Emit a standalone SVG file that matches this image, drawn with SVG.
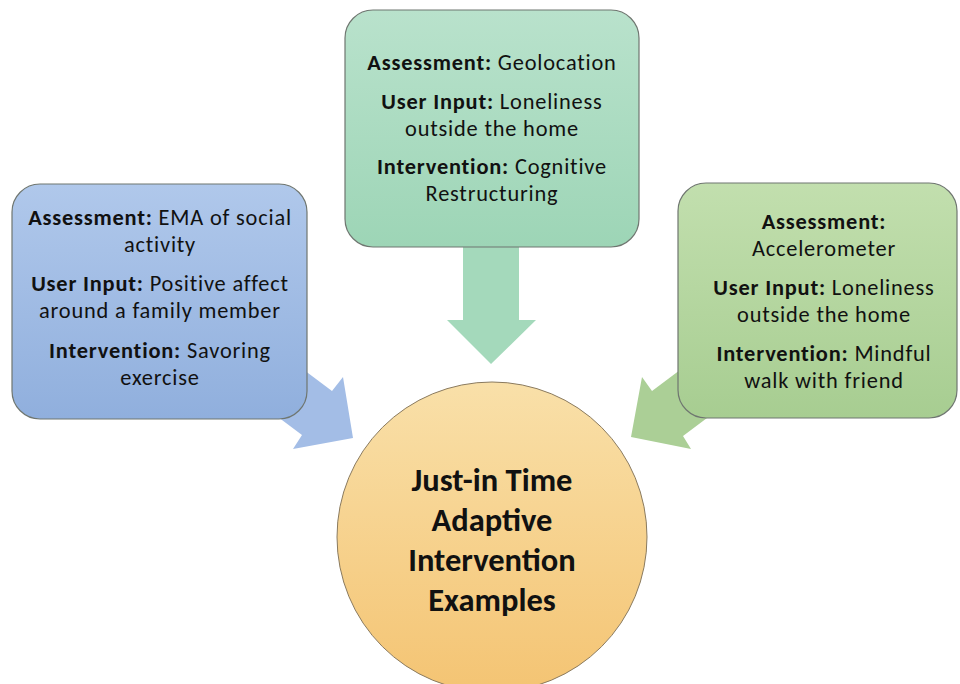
<svg xmlns="http://www.w3.org/2000/svg" width="960" height="684" viewBox="0 0 960 684">
  <defs>
    <linearGradient id="gBlue" x1="0" y1="0" x2="0" y2="1">
      <stop offset="0" stop-color="#b0c8eb"/>
      <stop offset="1" stop-color="#90afdd"/>
    </linearGradient>
    <linearGradient id="gTeal" x1="0" y1="0" x2="0" y2="1">
      <stop offset="0" stop-color="#b9e2cc"/>
      <stop offset="1" stop-color="#9dd5b6"/>
    </linearGradient>
    <linearGradient id="gGreen" x1="0" y1="0" x2="0" y2="1">
      <stop offset="0" stop-color="#c2dfae"/>
      <stop offset="1" stop-color="#a7cd91"/>
    </linearGradient>
    <linearGradient id="gGold" x1="0" y1="0" x2="0" y2="1">
      <stop offset="0" stop-color="#f9e0a9"/>
      <stop offset="1" stop-color="#f4c473"/>
    </linearGradient>
  </defs>
  <style>
    .box { stroke: #6f7670; stroke-width: 1.2; }
    .t { font-family: Carlito, Lato, "Open Sans", sans-serif; font-size: 22.4px; letter-spacing: 0.8px; fill: #111; text-anchor: middle; }
    .b { font-weight: bold; }
    .hub { font-family: Carlito, Lato, "Open Sans", sans-serif; font-size: 32.5px; font-weight: bold; fill: #111; text-anchor: middle; }
  </style>

  <!-- block arrows pointing at the hub -->
  <g id="connectors">
    <polygon fill="#a3bde6" points="284,355 332,391 343,377 353,438 293,449 302,435 254,399"/>
    <polygon fill="#a4d9bb" points="463,230 519,230 519,320 536,320 491,364 447,320 463,320"/>
    <polygon fill="#abcf96" points="700,355 652,391 642,377 631,437 691,449 683,436 731,400"/>
  </g>

  <g id="assessment-ema">
    <rect class="box" x="12" y="184" width="295" height="235" rx="28" fill="url(#gBlue)"/>
    <text class="t" x="160" y="225"><tspan class="b">Assessment:</tspan> EMA of social</text>
    <text class="t" x="160" y="252">activity</text>
    <text class="t" x="160" y="291"><tspan class="b">User Input:</tspan> Positive affect</text>
    <text class="t" x="160" y="318">around a family member</text>
    <text class="t" x="160" y="358"><tspan class="b">Intervention:</tspan> Savoring</text>
    <text class="t" x="160" y="385">exercise</text>
  </g>

  <g id="assessment-geolocation">
    <rect class="box" x="345" y="10" width="294" height="237" rx="28" fill="url(#gTeal)"/>
    <text class="t" x="492" y="70"><tspan class="b">Assessment:</tspan> Geolocation</text>
    <text class="t" x="492" y="109"><tspan class="b">User Input:</tspan> Loneliness</text>
    <text class="t" x="492" y="136">outside the home</text>
    <text class="t" x="492" y="174"><tspan class="b">Intervention:</tspan> Cognitive</text>
    <text class="t" x="492" y="201">Restructuring</text>
  </g>

  <g id="assessment-accelerometer">
    <rect class="box" x="678" y="183" width="279" height="235" rx="28" fill="url(#gGreen)"/>
    <text class="t b" x="824" y="229">Assessment:</text>
    <text class="t" x="824" y="256">Accelerometer</text>
    <text class="t" x="824" y="295"><tspan class="b">User Input:</tspan> Loneliness</text>
    <text class="t" x="824" y="322">outside the home</text>
    <text class="t" x="824" y="361"><tspan class="b">Intervention:</tspan> Mindful</text>
    <text class="t" x="824" y="388">walk with friend</text>
  </g>

  <g id="hub">
    <circle cx="492" cy="537" r="155" fill="url(#gGold)" stroke="#8a7a5e" stroke-width="1"/>
    <text class="hub" x="492" y="491">Just-in Time</text>
    <text class="hub" x="492" y="531">Adaptive</text>
    <text class="hub" x="492" y="571">Intervention</text>
    <text class="hub" x="492" y="611">Examples</text>
  </g>
</svg>
